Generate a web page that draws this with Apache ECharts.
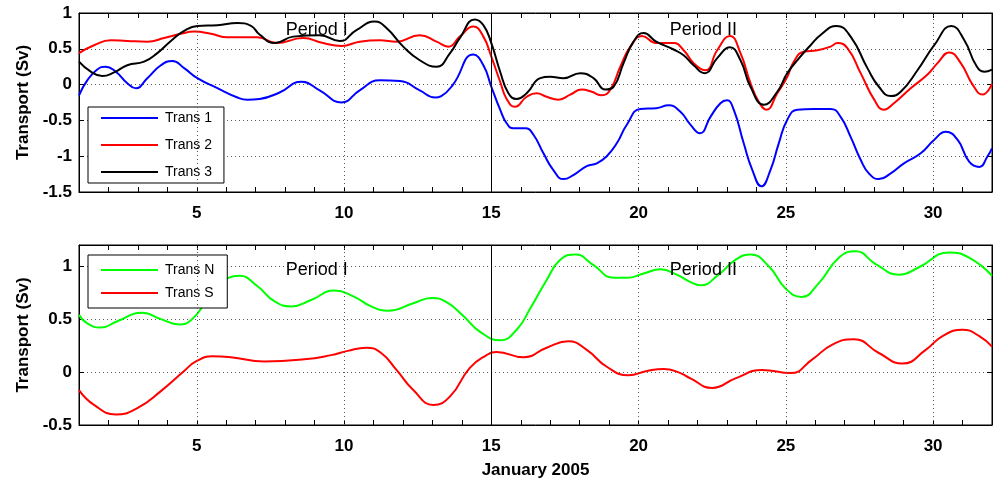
<!DOCTYPE html>
<html><head><meta charset="utf-8">
<script src="https://cdn.jsdelivr.net/npm/echarts@6/dist/echarts.min.js"></script>
<style>html,body{margin:0;padding:0;background:#fff}#c{width:995px;height:482px}</style>
</head><body><div id="c"></div>
<script>
// ---- axis ranges / ticks ----
const dayMin = 1, dayMax = 32;
const xGridDays = [5, 10, 20, 25, 30];
const periodSplitDay = 15;
const topYRange = [-1.5, 1];
const botYRange = [-0.5, 1.2];
const yStep = 0.5;
const xLabel = 'January 2005';
const yLabel = 'Transport (Sv)';
const periodNames = ['Period I', 'Period II'];
const periodDays = [9.07, 22.2];
const periodTopVal = 0.76;
const periodBotVal = 0.965;

// ---- top panel data ----
const t1Days = [1.0,1.28,1.62,1.9,2.25,2.64,2.93,3.32,3.78,4.17,4.57,5.02,5.7,6.38,6.72,7.13,7.81,8.55,9.17,9.91,10.53,11.21,11.9,12.57,13.09,13.3,13.7,14.39,14.73,15.0,15.3,15.52,15.75,16.15,16.43,16.77,17.1,17.45,17.8,18.24,18.58,18.92,19.26,19.6,20.06,20.6,21.02,21.42,21.76,22.08,22.44,22.78,23.0,23.23,23.57,23.86,24.17,24.48,24.76,25.05,25.39,25.95,26.52,26.86,27.2,27.54,27.82,28.16,28.56,29.01,29.58,30.04,30.43,30.83,31.23,31.57,31.85,32.0];
const t1Vals = [-0.15,0.06,0.21,0.25,0.18,0.02,-0.05,0.09,0.27,0.33,0.23,0.09,-0.05,-0.18,-0.21,-0.2,-0.11,0.04,-0.08,-0.25,-0.08,0.06,0.05,-0.08,-0.18,-0.16,0.0,0.42,0.27,-0.03,-0.35,-0.54,-0.61,-0.61,-0.7,-0.96,-1.19,-1.32,-1.26,-1.14,-1.1,-1.0,-0.82,-0.56,-0.34,-0.33,-0.29,-0.38,-0.56,-0.68,-0.45,-0.26,-0.22,-0.35,-0.82,-1.19,-1.42,-1.19,-0.82,-0.49,-0.35,-0.34,-0.34,-0.45,-0.73,-1.05,-1.24,-1.32,-1.24,-1.1,-0.96,-0.77,-0.66,-0.77,-1.08,-1.15,-1.0,-0.89];

const t2Days = [1.0,1.51,2.08,2.64,3.32,3.89,4.46,4.91,5.48,6.04,6.61,7.06,7.7,8.61,9.29,9.91,10.53,11.21,11.78,12.57,13.14,13.54,13.93,14.39,14.73,15.0,15.3,15.52,15.8,16.2,16.54,16.88,17.28,17.68,18.07,18.41,18.75,19.04,19.38,19.72,20.12,20.6,21.19,21.53,21.87,22.27,22.67,23.1,23.46,23.8,24.08,24.34,24.71,25.05,25.27,25.61,26.07,26.52,26.75,27.09,27.54,28.0,28.33,28.67,29.24,29.81,30.15,30.55,30.94,31.34,31.68,32.0];
const t2Vals = [0.44,0.55,0.62,0.61,0.6,0.65,0.71,0.74,0.71,0.66,0.66,0.66,0.58,0.65,0.58,0.54,0.6,0.62,0.6,0.69,0.6,0.53,0.67,0.81,0.67,0.39,0.04,-0.2,-0.31,-0.17,-0.12,-0.17,-0.21,-0.14,-0.07,-0.1,-0.15,-0.07,0.25,0.53,0.68,0.58,0.58,0.48,0.3,0.2,0.48,0.68,0.44,0.02,-0.24,-0.35,-0.12,0.11,0.32,0.46,0.48,0.53,0.58,0.51,0.16,-0.21,-0.35,-0.26,-0.05,0.14,0.3,0.45,0.3,0.0,-0.14,0.01];

const t3Days = [1.0,1.4,1.79,2.19,2.64,3.21,3.66,4.12,4.57,5.02,5.7,6.38,6.84,7.13,7.65,8.27,9.17,9.85,10.42,11.04,11.44,12.01,12.57,13.14,13.6,13.93,14.44,14.73,15.0,15.3,15.58,15.86,16.2,16.66,17.0,17.45,18.02,18.47,18.87,19.15,19.49,19.83,20.17,20.6,21.19,21.53,21.87,22.24,22.67,23.1,23.46,23.8,24.25,24.71,25.05,25.45,25.84,26.2,26.72,27.2,27.77,28.16,28.56,28.9,29.47,30.04,30.62,31.06,31.46,31.74,32.0];
const t3Vals = [0.32,0.18,0.12,0.17,0.27,0.32,0.44,0.61,0.75,0.82,0.83,0.86,0.82,0.7,0.58,0.67,0.69,0.61,0.76,0.88,0.79,0.53,0.34,0.25,0.44,0.65,0.91,0.83,0.58,0.18,-0.12,-0.2,-0.12,0.09,0.11,0.09,0.16,0.09,-0.07,-0.03,0.3,0.6,0.72,0.6,0.49,0.41,0.27,0.16,0.37,0.52,0.34,-0.03,-0.28,-0.1,0.16,0.37,0.55,0.7,0.82,0.67,0.23,-0.03,-0.16,-0.1,0.2,0.55,0.82,0.62,0.27,0.18,0.21];

// ---- bottom panel data ----
const tNDays = [1.0,1.28,1.74,2.3,3.15,3.78,4.4,4.8,5.25,5.7,6.44,7.06,7.63,8.2,8.88,9.67,10.35,10.92,11.5,12.35,12.97,13.48,14.05,14.62,15.3,15.86,16.32,16.88,17.34,17.85,18.47,19.15,19.6,20.17,20.74,21.3,21.76,22.1,22.72,23.29,23.8,24.42,24.99,25.53,26.12,26.8,27.37,28.05,28.84,29.52,30.54,31.22,32.0];
const tNVals = [0.54,0.46,0.42,0.48,0.56,0.5,0.45,0.49,0.64,0.81,0.91,0.81,0.67,0.62,0.68,0.77,0.71,0.62,0.58,0.65,0.7,0.66,0.53,0.38,0.3,0.4,0.6,0.87,1.06,1.11,1.01,0.89,0.89,0.93,0.97,0.92,0.85,0.82,0.92,1.06,1.11,1.0,0.79,0.71,0.84,1.08,1.14,1.02,0.92,0.99,1.13,1.08,0.91];

const tSDays = [1.0,1.51,2.25,2.98,3.78,4.57,4.97,5.53,6.16,7.29,8.65,9.56,10.12,10.75,11.26,11.78,12.35,13.03,13.6,14.27,14.84,15.18,16.09,16.88,17.62,18.24,18.92,19.66,20.28,20.85,21.42,21.76,22.5,23.29,24.2,25.16,25.9,26.58,27.31,28.16,28.96,29.75,30.32,31.0,31.57,32.0];
const tSVals = [-0.17,-0.31,-0.4,-0.34,-0.18,0.01,0.1,0.15,0.14,0.1,0.12,0.16,0.2,0.23,0.18,0.02,-0.17,-0.31,-0.23,0.04,0.16,0.19,0.14,0.23,0.29,0.21,0.05,-0.03,0.01,0.03,-0.01,-0.06,-0.15,-0.06,0.02,-0.01,0.12,0.26,0.31,0.18,0.08,0.21,0.34,0.4,0.34,0.24];

const zip = (xs, ys) => xs.map((x, i) => [x, ys[i]]);
const FONT = "'Liberation Sans', Arial, Helvetica, sans-serif";
const DOT = { type: [1, 3], color: '#555', width: 1 };

function xAx(gridIndex, position, showLabels, name) {
  return {
    type: 'value', gridIndex, position, min: dayMin, max: dayMax, interval: 1,
    axisLine: { show: true, onZero: false, lineStyle: { color: '#000', width: 1 } },
    axisTick: { show: true, inside: true, length: 5, lineStyle: { color: '#000' } },
    axisLabel: {
      show: showLabels, margin: 13, color: '#000', fontFamily: FONT, fontWeight: 'bold', fontSize: 17,
      showMinLabel: true, showMaxLabel: true, hideOverlap: false,
      formatter: v => (Math.abs(v % 5) < 1e-9 ? String(v) : '')
    },
    splitLine: { show: false },
    name: name || '', nameLocation: 'middle', nameGap: 37,
    nameTextStyle: { color: '#000', fontFamily: FONT, fontWeight: 'bold', fontSize: 17 }
  };
}
function yAx(gridIndex, position, range, showLabels, name) {
  return {
    type: 'value', gridIndex, position, min: range[0], max: range[1], interval: yStep,
    axisLine: { show: true, onZero: false, lineStyle: { color: '#000', width: 1 } },
    axisTick: { show: true, inside: true, length: 5, lineStyle: { color: '#000' } },
    axisLabel: {
      show: showLabels, margin: 7, color: '#000', fontFamily: FONT, fontWeight: 'bold', fontSize: 17,
      formatter: v => (Math.abs(Math.round(v / yStep) * yStep - v) < 1e-9 ? String(v) : '')
    },
    splitLine: { show: showLabels, showMinLine: false, showMaxLine: false, lineStyle: DOT },
    name: name || '', nameLocation: 'middle', nameGap: 46,
    nameTextStyle: { color: '#000', fontFamily: FONT, fontWeight: 'bold', fontSize: 17 }
  };
}
function vLines() {
  return {
    silent: true, symbol: ['none', 'none'], animation: false,
    label: { show: false }, emphasis: { disabled: true },
    data: xGridDays.map(d => ({ xAxis: d, lineStyle: DOT }))
      .concat([{ xAxis: periodSplitDay, lineStyle: { type: 'solid', color: '#000', width: 1 } }])
  };
}
function periodMarks(val) {
  return {
    silent: true, symbol: 'circle', symbolSize: 0, animation: false,
    itemStyle: { color: 'transparent' },
    label: { show: true, position: 'inside', color: '#000', fontFamily: FONT, fontSize: 18,
             formatter: p => p.name },
    data: periodNames.map((n, i) => ({ name: n, coord: [periodDays[i], val] }))
  };
}
function line(name, xs, ys, color, xi, yi, extra) {
  return Object.assign({
    name, type: 'line', xAxisIndex: xi, yAxisIndex: yi, data: zip(xs, ys),
    smooth: 0.5, symbol: 'none', showSymbol: false,
    lineStyle: { color, width: 2 }, itemStyle: { color },
    emphasis: { disabled: true }, animation: false
  }, extra || {});
}
function legendCfg(names, top, pad, gap) {
  return {
    data: names,
    orient: 'vertical', left: 88, top,
    padding: pad, itemGap: gap, itemWidth: 57, itemHeight: 14,
    itemStyle: { opacity: 0, borderWidth: 0 },
    borderColor: '#000', borderWidth: 1, backgroundColor: '#fff', borderRadius: 0,
    selectedMode: false, textStyle: { color: '#000', fontFamily: FONT, fontSize: 14, padding: [0, 0, 0, 2] }
  };
}

const chart = echarts.init(document.getElementById('c'), null, { renderer: 'canvas' });
chart.setOption({
  animation: false,
  backgroundColor: '#fff',
  textStyle: { fontFamily: FONT },
  grid: [
    { left: 79, right: 3, top: 13, height: 179, show: true, borderColor: '#000', borderWidth: 1, backgroundColor: '#fff' },
    { left: 79, right: 3, top: 245, height: 180, show: true, borderColor: '#000', borderWidth: 1, backgroundColor: '#fff' }
  ],
  xAxis: [
    xAx(0, 'bottom', true), xAx(0, 'top', false),
    xAx(1, 'bottom', true, xLabel), xAx(1, 'top', false)
  ],
  yAxis: [
    yAx(0, 'left', topYRange, true, yLabel), yAx(0, 'right', topYRange, false),
    yAx(1, 'left', botYRange, true, yLabel), yAx(1, 'right', botYRange, false)
  ],
  legend: [
    legendCfg(['Trans 1', 'Trans 2', 'Trans 3'], 107, [4, 12, 4, 12], 13),
    legendCfg(['Trans N', 'Trans S'], 255, [8, 13, 8, 12], 9)
  ],
  series: [
    line('Trans 1', t1Days, t1Vals, '#0000ff', 0, 0, { markLine: vLines(), markPoint: periodMarks(periodTopVal) }),
    line('Trans 2', t2Days, t2Vals, '#ff0000', 0, 0),
    line('Trans 3', t3Days, t3Vals, '#000000', 0, 0),
    line('Trans N', tNDays, tNVals, '#00ff00', 2, 2, { markLine: vLines(), markPoint: periodMarks(periodBotVal) }),
    line('Trans S', tSDays, tSVals, '#ff0000', 2, 2)
  ]
});
</script></body></html>
